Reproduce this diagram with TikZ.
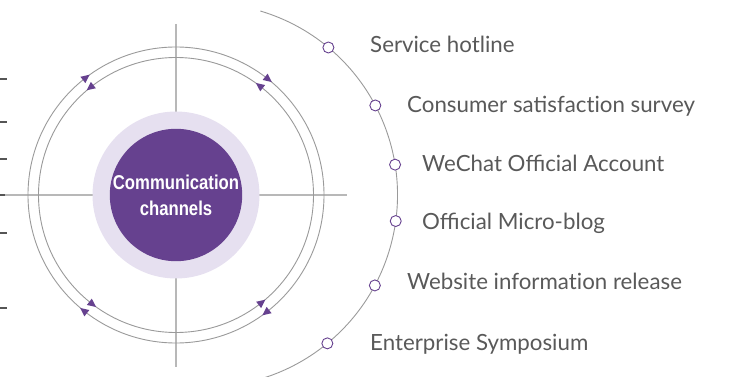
\documentclass[tikz,border=0pt]{standalone}
\usepackage{fontspec}
\setmainfont{Lato}
\newfontfamily\titlefont{Liberation Sans}
\usetikzlibrary{shapes.geometric}
\definecolor{purp}{HTML}{66418F}
\definecolor{lav}{HTML}{E6E0F0}
\definecolor{txtgray}{HTML}{595959}
\definecolor{ringgray}{HTML}{9A9A9A}
\definecolor{axisgray}{HTML}{B8B8B8}
\definecolor{tickgray}{HTML}{555555}
\tikzset{
  axisline/.style={draw=axisgray, line width=1.4pt},
  ringline/.style={draw=ringgray, line width=0.9pt},
  arcline/.style={draw=ringgray, line width=0.9pt},
  tickline/.style={draw=tickgray, line width=1.3pt},
  tri/.style={isosceles triangle, isosceles triangle stretches, minimum height=8.5pt, minimum width=8pt, inner sep=0pt, fill=purp},
  marker/.style={circle, draw=purp, fill=white, line width=0.9pt, minimum size=11pt, inner sep=0pt},
  lbl/.style={anchor=base west, text=txtgray, font=\fontsize{22.3}{26}\selectfont, inner sep=0pt},
}
\begin{document}
\begin{tikzpicture}[x=1pt,y=-1pt]
\useasboundingbox (0,0) rectangle (732,377);
\coordinate (c) at (176,195);
\coordinate (ac) at (205.5,195);
% left ticks
\foreach \yy in {79,122,159,195,233,308} \draw[tickline] (0,\yy) -- (7,\yy);
% axes
\coordinate (axL) at (5,195);
\coordinate (axR) at (347,195);
\coordinate (axT) at (176,24);
\coordinate (axB) at (176,367);
\draw[axisline] (axL) -- (axR);
\draw[axisline] (axT) -- (axB);
% rings
\draw[ringline] (c) circle[radius=148];
\draw[ringline] (c) circle[radius=137.5];
% arrows: outer clockwise, inner counterclockwise
\foreach \p in {52,128,-52,-128} {
  \path (c) ++(-\p:148) node[tri, rotate=\p-90] {};
  \path (c) ++(-\p:137.5) node[tri, rotate=\p+90] {};
}
% center discs
\fill[lav] (c) circle[radius=83.5];
\node[circle, fill=purp, minimum size=127pt, inner sep=0pt, text=white, align=center,
      font=\titlefont\bfseries\fontsize{20}{26}\selectfont] (center) at (c)
      {\scalebox{0.835}[1]{Communication}\\\scalebox{0.835}[1]{channels}};
% big arc
\draw[arcline] (ac) ++(-73.4:192) arc[start angle=-73.4, end angle=76, radius=192];
% markers
\path (ac) ++(-50.2:192) node[marker] (m1) {};
\path (ac) ++(-27.8:192) node[marker] (m2) {};
\path (ac) ++(-9.1:192) node[marker] (m3) {};
\path (ac) ++(7.8:192) node[marker] (m4) {};
\path (ac) ++(28.1:192) node[marker] (m5) {};
\path (ac) ++(50.6:192) node[marker] (m6) {};
% labels
\node[lbl] (l1) at (370,52.3) {Service hotline};
\node[lbl] (l2) at (407,112.3) {Consumer satisfact\kern0pt ion survey};
\node[lbl] (l3) at (422,171.5) {WeChat Official Account};
\node[lbl] (l4) at (422,230) {Official Micro-blog};
\node[lbl] (l5) at (407,289.5) {Website informat\kern0pt ion release};
\node[lbl] (l6) at (370,350) {Enterprise Symposium};
\end{tikzpicture}
\end{document}
